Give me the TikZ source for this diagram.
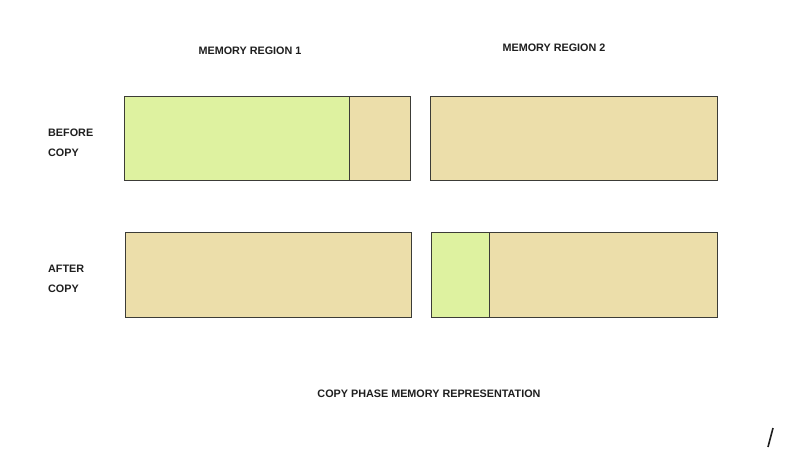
\documentclass[tikz,border=0pt]{standalone}
\usepackage{fontspec}
\setmainfont{Liberation Sans}
\definecolor{memgreen}{RGB}{222,242,160}
\definecolor{memtan}{RGB}{236,222,170}
\definecolor{edge}{RGB}{60,60,55}
\definecolor{ink}{RGB}{30,30,30}
\begin{document}
\begin{tikzpicture}[x=1pt,y=-1pt,
  cell/.style={draw=edge, line width=0.8pt, inner sep=0pt, outer sep=0pt, anchor=north west},
  g/.style={cell, fill=memgreen},
  t/.style={cell, fill=memtan},
  lbl/.style={text=ink, font=\fontsize{10.8}{12}\selectfont\bfseries, inner sep=0pt}]
\useasboundingbox (0,0) rectangle (785,453);
% row 1
\node[g, minimum width=225pt, minimum height=84pt] (b1g) at (124,96) {};
\node[t, minimum width=61pt, minimum height=84pt] (b1t) at (349,96) {};
\node[t, minimum width=287pt, minimum height=84pt] (b2t) at (430,96) {};
% row 2
\node[t, minimum width=286pt, minimum height=85pt] (a1t) at (125,232) {};
\node[t, minimum width=228pt, minimum height=85pt] (a2t) at (489,232) {};
\node[g, minimum width=58pt, minimum height=85pt] (a2g) at (431,232) {};
% labels
\node[lbl] (r1) at (250,51) {MEMORY REGION 1};
\node[lbl] (r2) at (554,48) {MEMORY REGION 2};
\node[lbl, anchor=west] (bef) at (48,133) {BEFORE};
\node[lbl, anchor=west] (bc) at (48,153) {COPY};
\node[lbl, anchor=west] (aft) at (48,269) {AFTER};
\node[lbl, anchor=west] (ac) at (48,289) {COPY};
\node[lbl] (cap) at (429,394) {COPY PHASE MEMORY REPRESENTATION};
% stray mark
\coordinate (s1) at (768,447);
\coordinate (s2) at (773,428);
\draw[ink, line width=1.6pt] (s1) -- (s2);
\end{tikzpicture}
\end{document}
